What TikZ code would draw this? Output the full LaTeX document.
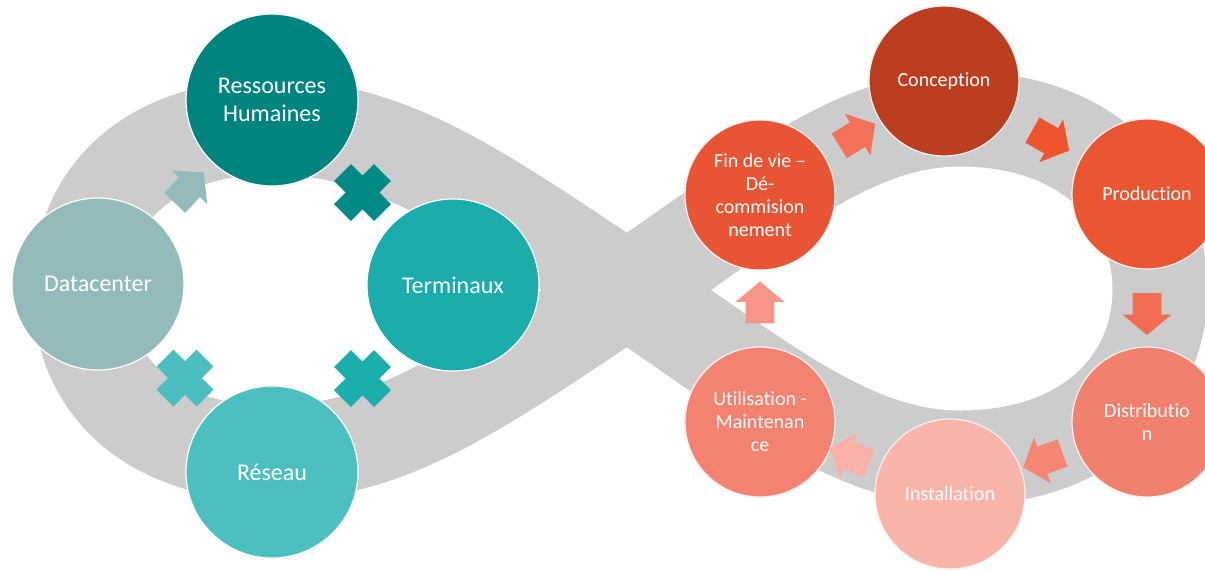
\documentclass[tikz,border=0pt]{standalone}
\usepackage{fontspec}
\setmainfont{Carlito}[Ligatures=NoCommon]
\usetikzlibrary{shapes.arrows, calc}

\definecolor{bandgray}{RGB}{204,204,204}
\definecolor{rhteal}{RGB}{0,132,128}
\definecolor{termteal}{RGB}{26,173,171}
\definecolor{resteal}{RGB}{76,191,191}
\definecolor{dcteal}{RGB}{148,187,187}
\definecolor{rhcross}{RGB}{2,138,134}
\definecolor{termcross}{RGB}{26,175,173}
\definecolor{rescross}{RGB}{75,190,192}
\definecolor{concred}{RGB}{187,62,30}
\definecolor{prodred}{RGB}{234,85,50}
\definecolor{finred}{RGB}{232,84,52}
\definecolor{distred}{RGB}{242,128,110}
\definecolor{instpink}{RGB}{249,181,170}
\definecolor{utilred}{RGB}{244,130,112}
\definecolor{finarrow}{RGB}{242,113,88}
\definecolor{concarrow}{RGB}{238,84,46}
\definecolor{prodarrow}{RGB}{242,110,82}
\definecolor{distarrow}{RGB}{245,134,115}
\definecolor{instarrow}{RGB}{249,176,166}
\definecolor{utilarrow}{RGB}{247,150,134}

\begin{document}
\begin{tikzpicture}[x=0.5pt, y=-0.5pt,
    bigcircle/.style={circle, draw=white, line width=0.6pt, minimum size=86pt, inner sep=0pt,
        text=white, align=center, font=\fontsize{12}{14}\selectfont},
    smallcircle/.style={circle, draw=white!95!black, line width=0.6pt, minimum size=75pt, inner sep=0pt,
        text=white, align=center, font=\fontsize{10}{11.5}\selectfont},
    blockarrow/.style={single arrow, minimum height=21pt, inner xsep=0pt, inner ysep=7pt,
        single arrow head extend=5pt, single arrow tip angle=100,
        sloped, allow upside down},
    xmark/.pic={\draw[line width=12pt] (-20,-20) -- (20,20) (-20,20) -- (20,-20);}]
        \useasboundingbox (0,0) rectangle (1205,570);

        % infinity band
        \coordinate (cross) at (627,290);
        \draw[bandgray, line width=47.5pt] (cross)
            .. controls (480,192) and (390,127) .. (272,127)
            .. controls (150,127) and (80,195) .. (80,290)
            .. controls (80,385) and (150,453) .. (272,453)
            .. controls (390,453) and (480,388) .. (cross)
            .. controls (760,201) and (850,119) .. (960,119)
            .. controls (1090,119) and (1160,200) .. (1160,290)
            .. controls (1160,380) and (1090,458) .. (960,458)
            .. controls (850,458) and (760,379) .. (cross);

        % left cycle
        \node[bigcircle, fill=rhteal] (rh) at (272,100) {Ressources\\Humaines};
        \node[bigcircle, fill=termteal] (term) at (453,285) {Terminaux};
        \node[bigcircle, fill=resteal] (res) at (272,472) {Réseau};
        \node[bigcircle, fill=dcteal] (dc) at (98,284) {Datacenter};

        \path (dc) -- node[blockarrow, fill=dcteal] (dcrh) {} (rh);
        \pic[rhcross] at ($(rh)!0.5!(term)$) {xmark};
        \pic[termcross] at ($(term)!0.5!(res)$) {xmark};
        \pic[rescross] at ($(res)!0.5!(dc)$) {xmark};

        % right cycle
        \node[smallcircle, fill=finred] (fin) at (760,195) {Fin de vie –\\Dé-\\commision\\nement};
        \node[smallcircle, fill=concred] (conc) at (944,81) {Conception};
        \node[smallcircle, fill=prodred] (prod) at (1147,194) {Production};
        \node[smallcircle, fill=distred] (dist) at (1147,422) {Distributio\\n};
        \node[smallcircle, fill=instpink] (inst) at (950,494) {Installation};
        \node[smallcircle, fill=utilred] (util) at (760,422) {Utilisation -\\Maintenan\\ce};

        \path (fin) -- node[blockarrow, fill=finarrow] (finconc) {} (conc);
        \path (conc) -- node[blockarrow, fill=concarrow] (concprod) {} (prod);
        \path (prod) -- node[blockarrow, fill=prodarrow] (proddist) {} (dist);
        \path (dist) -- node[blockarrow, fill=distarrow] (distinst) {} (inst);
        \path (inst) -- node[blockarrow, fill=instarrow] (instutil) {} (util);
        \path (util) -- node[blockarrow, fill=utilarrow] (utilfin) {} (fin);
\end{tikzpicture}
\end{document}
